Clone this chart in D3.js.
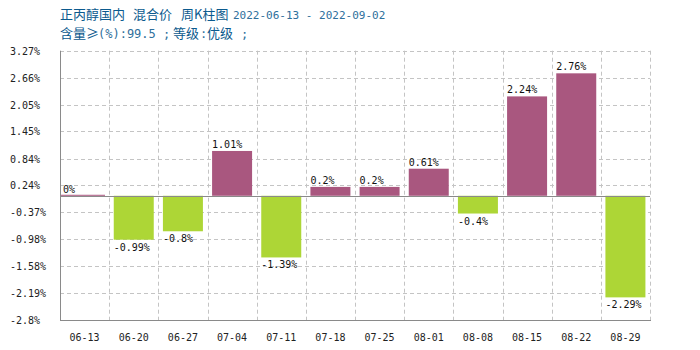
<!DOCTYPE html>
<html>
<head>
<meta charset="utf-8">
<script src="https://cdn.jsdelivr.net/npm/d3@7"></script>
<style>
  html, body { margin: 0; padding: 0; background: #fff; }
  svg { display: block; }
</style>
</head>
<body>
<svg id="chart" width="700" height="350"></svg>
<script>
// Weekly change of n-propanol domestic mixed price
const weeks = ["06-13","06-20","06-27","07-04","07-11","07-18","07-25","08-01","08-08","08-15","08-22","08-29"];
const changes = [0, -0.99, -0.8, 1.01, -1.39, 0.2, 0.2, 0.61, -0.4, 2.24, 2.76, -2.29];
const yTicks = [3.27, 2.66, 2.05, 1.45, 0.84, 0.24, -0.37, -0.98, -1.58, -2.19, -2.8];
const yTickLabels = ["3.27%","2.66%","2.05%","1.45%","0.84%","0.24%","-0.37%","-0.98%","-1.58%","-2.19%","-2.8%"];
// Title pieces: [text, font kind, x]
const titleParts = [["正丙醇国内","cjk",60],["混合价","cjk",133],["周K柱图","cjk",181],["2022-06-13 - 2022-09-02","date",233]];
const subtitleParts = [["含量≥","cjk",60],["(%):99.5 ;","mono",98],["等级","cjk",173],[":","mono",200],["优级","cjk",207],[";","mono",241]];

(function () {
const svg = d3.select("#chart");
const plotL = 60, plotR = 650, plotT = 50.7, plotB = 320;
const mono = "'DejaVu Sans Mono', 'Liberation Mono', monospace";
const cjk = "'Noto Sans CJK SC', sans-serif";
const up = "#a9577f", down = "#add636";
const titleColor = "#0b5a8e";

const x = d3.scaleBand().domain(weeks).range([plotL, plotR]).paddingInner(0).paddingOuter(0);
const y = d3.scaleLinear().domain([-2.8, 3.27]).range([plotB, plotT]);

function drawParts(parts, baseY) {
  svg.append("g").selectAll("text").data(parts).join("text")
    .attr("x", d => d[2]).attr("y", baseY)
    .attr("font-family", d => d[1] === "cjk" ? cjk : mono)
    .attr("font-size", d => d[1] === "cjk" ? 13 : (d[1] === "date" ? 11 : 12))
    .attr("fill", d => d[1] === "cjk" ? titleColor : "#2f6f9c")
    .text(d => d[0]);
}
drawParts(titleParts, 19);
drawParts(subtitleParts, 38);

// Horizontal grid
svg.append("g").selectAll("line").data(yTicks).join("line")
  .attr("x1", plotL).attr("x2", plotR)
  .attr("y1", d => Math.round(y(d)) + 0.5).attr("y2", d => Math.round(y(d)) + 0.5)
  .attr("stroke", "#c4c4c4").attr("stroke-dasharray", "4,3");

// Vertical grid at band edges
const edges = weeks.map(w => x(w)).concat([plotR]);
svg.append("g").selectAll("line").data(edges.slice(1)).join("line")
  .attr("x1", d => Math.round(d) + 0.5).attr("x2", d => Math.round(d) + 0.5)
  .attr("y1", plotT).attr("y2", plotB)
  .attr("stroke", "#c4c4c4").attr("stroke-dasharray", "4,3");

// Bars
const barW = 40;
const bx = w => x(w) + (x.bandwidth() - barW) / 2;
svg.append("g").selectAll("rect").data(weeks).join("rect")
  .attr("x", (w, i) => changes[i] === 0 ? x(w) : bx(w))
  .attr("width", (w, i) => changes[i] === 0 ? 45 : barW)
  .attr("y", (w, i) => changes[i] === 0 ? y(0) - 1 : y(Math.max(0, changes[i])))
  .attr("height", (w, i) => changes[i] === 0 ? 1 : Math.abs(y(changes[i]) - y(0)))
  .attr("fill", (w, i) => changes[i] >= 0 ? up : down);

// Zero line
svg.append("line").attr("x1", plotL).attr("x2", plotR)
  .attr("y1", Math.round(y(0)) + 0.5).attr("y2", Math.round(y(0)) + 0.5)
  .attr("stroke", "#8a8a8a");

// Axes
svg.append("line").attr("x1", plotL + 0.5).attr("x2", plotL + 0.5).attr("y1", plotT).attr("y2", plotB + 0.5).attr("stroke", "#8a8a8a");
svg.append("line").attr("x1", plotL).attr("x2", plotR + 1).attr("y1", plotB + 0.5).attr("y2", plotB + 0.5).attr("stroke", "#8a8a8a");

// Value labels
svg.append("g").selectAll("text").data(weeks).join("text")
  .attr("x", (w, i) => changes[i] === 0 ? x(w) + 3 : bx(w))
  .attr("y", (w, i) => changes[i] >= 0 ? y(changes[i]) - 3 : y(changes[i]) + 11)
  .attr("font-family", mono).attr("font-size", 10).attr("fill", "#111")
  .text((w, i) => changes[i] + "%");

// Y tick labels
svg.append("g").selectAll("text").data(yTicks).join("text")
  .attr("x", 10).attr("y", d => y(d) + 4)
  .attr("font-family", mono).attr("font-size", 10).attr("fill", "#222")
  .text((d, i) => yTickLabels[i]);

// X tick labels
svg.append("g").selectAll("text").data(weeks).join("text")
  .attr("x", w => x(w) + x.bandwidth() / 2).attr("y", 341)
  .attr("text-anchor", "middle")
  .attr("font-family", mono).attr("font-size", 10).attr("fill", "#222")
  .text(w => w);
})();
</script>
</body>
</html>
